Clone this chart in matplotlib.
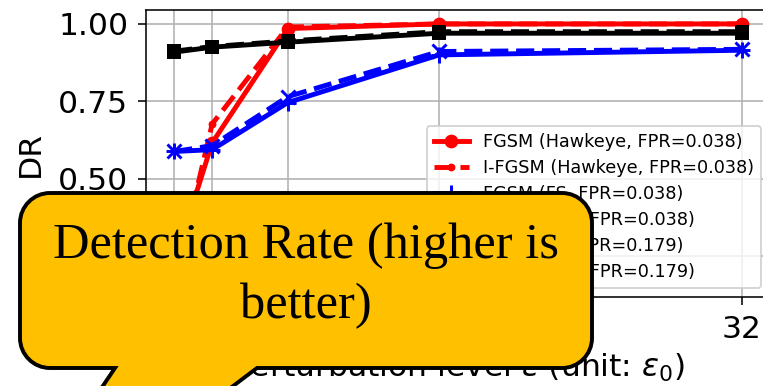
import numpy as np
import matplotlib
matplotlib.use("Agg")
import matplotlib.pyplot as plt
from matplotlib.path import Path
from matplotlib.patches import PathPatch

# datos
eps = [2, 4, 8, 16, 32]
fgsm_hawkeye = [0.23, 0.616, 0.985, 1.0, 1.0]
ifgsm_hawkeye = [0.16, 0.677, 0.99, 1.0, 1.0]
fgsm_fs = [0.588, 0.594, 0.746, 0.90, 0.915]
ifgsm_fs = [0.588, 0.607, 0.765, 0.911, 0.918]
fgsm_fs2 = [0.909, 0.925, 0.941, 0.970, 0.970]
ifgsm_fs2 = [0.912, 0.927, 0.945, 0.975, 0.975]

etiquetas = ["FGSM (Hawkeye, FPR=0.038)", "I-FGSM (Hawkeye, FPR=0.038)",
             "FGSM (FS, FPR=0.038)", "I-FGSM (FS, FPR=0.038)",
             "FGSM (FS, FPR=0.179)", "I-FGSM (FS, FPR=0.179)"]
yticks = [0.25, 0.50, 0.75, 1.00]
nota = ["Detection Rate (higher is", "better)"]

W, H, DPI = 763, 386, 141
fig = plt.figure(figsize=(W / DPI, H / DPI), dpi=DPI)
ax = fig.add_axes([146 / W, 1 - 297 / H, 624 / W, 287 / H])

lw = 2.5
ax.plot(eps, fgsm_hawkeye, color='red', linestyle='-', marker='o', lw=lw, label=etiquetas[0])
ax.plot(eps, ifgsm_hawkeye, color='red', linestyle='--', marker='.', lw=lw, label=etiquetas[1])
ax.plot(eps, fgsm_fs, color='blue', linestyle='-', marker='+', ms=8, mew=1.5, lw=lw, label=etiquetas[2])
ax.plot(eps, ifgsm_fs, color='blue', linestyle='--', marker='x', ms=7, mew=1.5, lw=lw, label=etiquetas[3])
ax.plot(eps, fgsm_fs2, color='black', linestyle='-', marker='s', lw=lw, label=etiquetas[4])
ax.plot(eps, ifgsm_fs2, color='black', linestyle='--', marker='s', lw=lw, label=etiquetas[5])

ax.set_xlim(0.5, 33.5)
ax.set_ylim(0.118, 1.045)
ax.set_xticks(eps)
ax.set_yticks(yticks)
ax.tick_params(labelsize=16, length=4, pad=5)
ax.set_xlabel(r'Perturbation level $\epsilon$ (unit: $\epsilon_0$)', fontsize=16)
ax.set_ylabel('DR', fontsize=16, labelpad=7)
ax.grid(True)
ax.legend(loc='lower right', fontsize=9, labelspacing=0.45)

# globo de texto encima
def px(x, y):
    return (x / W, 1 - y / H)

L, R, T, B, r = 20, 592, 193, 368, 30
k = 0.5523 * r
verts = [
    (L + r, T), (R - r, T),
    (R - r + k, T), (R, T + r - k), (R, T + r),
    (R, B - r),
    (R, B - r + k), (R - r + k, B), (R - r, B),
    (257, B), (204, B + 40), (88, B + 40), (115, B),
    (L + r, B),
    (L + r - k, B), (L, B - r + k), (L, B - r),
    (L, T + r),
    (L, T + r - k), (L + r - k, T), (L + r, T),
    (L + r, T),
]
codes = [Path.MOVETO, Path.LINETO,
         Path.CURVE4, Path.CURVE4, Path.CURVE4,
         Path.LINETO,
         Path.CURVE4, Path.CURVE4, Path.CURVE4,
         Path.LINETO, Path.LINETO, Path.LINETO, Path.LINETO,
         Path.LINETO,
         Path.CURVE4, Path.CURVE4, Path.CURVE4,
         Path.LINETO,
         Path.CURVE4, Path.CURVE4, Path.CURVE4,
         Path.CLOSEPOLY]
globo = PathPatch(Path([px(*v) for v in verts], codes), facecolor='#FFC000',
                  edgecolor='black', lw=2, transform=fig.transFigure, zorder=5)
fig.add_artist(globo)

cx = (L + R) / 2
fig.text(*px(cx, 258), nota[0], ha='center', va='baseline', fontsize=25.8,
         family='Liberation Serif', zorder=6)
fig.text(*px(cx, 318), nota[1], ha='center', va='baseline', fontsize=25.8,
         family='Liberation Serif', zorder=6)

fig.savefig('out.png', dpi=DPI)
